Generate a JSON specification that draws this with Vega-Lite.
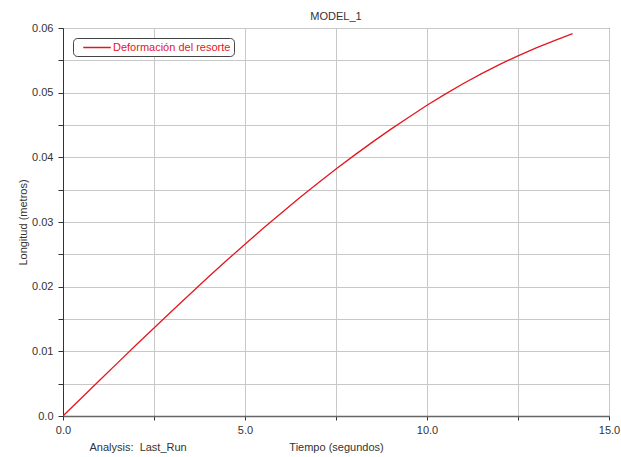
{
  "$schema": "https://vega.github.io/schema/vega-lite/v6.json",
  "autosize": {"type": "none"},
  "width": 546,
  "height": 388,
  "padding": {"left": 63, "top": 28, "right": 12, "bottom": 41},
  "background": "white",
  "title": {"text": "MODEL_1", "fontSize": 11, "fontWeight": "normal", "font": "Liberation Sans", "color": "#333", "anchor": "middle", "offset": 0},
  "data": {"values": [
    {"t": 0, "y": 0, "series": "Deformación del resorte"},
    {"t": 0.5, "y": 0.00275, "series": "Deformación del resorte"},
    {"t": 1, "y": 0.00549, "series": "Deformación del resorte"},
    {"t": 1.5, "y": 0.00822, "series": "Deformación del resorte"},
    {"t": 2, "y": 0.01093, "series": "Deformación del resorte"},
    {"t": 2.5, "y": 0.01362, "series": "Deformación del resorte"},
    {"t": 3, "y": 0.01629, "series": "Deformación del resorte"},
    {"t": 3.5, "y": 0.01892, "series": "Deformación del resorte"},
    {"t": 4, "y": 0.02152, "series": "Deformación del resorte"},
    {"t": 4.5, "y": 0.02407, "series": "Deformación del resorte"},
    {"t": 5, "y": 0.02657, "series": "Deformación del resorte"},
    {"t": 5.5, "y": 0.02902, "series": "Deformación del resorte"},
    {"t": 6, "y": 0.03141, "series": "Deformación del resorte"},
    {"t": 6.5, "y": 0.03374, "series": "Deformación del resorte"},
    {"t": 7, "y": 0.036, "series": "Deformación del resorte"},
    {"t": 7.5, "y": 0.03818, "series": "Deformación del resorte"},
    {"t": 8, "y": 0.0403, "series": "Deformación del resorte"},
    {"t": 8.5, "y": 0.04235, "series": "Deformación del resorte"},
    {"t": 9, "y": 0.04432, "series": "Deformación del resorte"},
    {"t": 9.5, "y": 0.04621, "series": "Deformación del resorte"},
    {"t": 10, "y": 0.04805, "series": "Deformación del resorte"},
    {"t": 10.5, "y": 0.04978, "series": "Deformación del resorte"},
    {"t": 11, "y": 0.05141, "series": "Deformación del resorte"},
    {"t": 11.5, "y": 0.05294, "series": "Deformación del resorte"},
    {"t": 12, "y": 0.05437, "series": "Deformación del resorte"},
    {"t": 12.5, "y": 0.0557, "series": "Deformación del resorte"},
    {"t": 13, "y": 0.05692, "series": "Deformación del resorte"},
    {"t": 13.5, "y": 0.05805, "series": "Deformación del resorte"},
    {"t": 14, "y": 0.05912, "series": "Deformación del resorte"}
  ]},
  "layer": [
    {
      "mark": {"type": "line", "strokeWidth": 1.3, "clip": true},
      "encoding": {
        "x": {"field": "t", "type": "quantitative",
          "scale": {"domain": [0, 15], "nice": false, "zero": false},
          "axis": {"title": "Tiempo (segundos)", "orient": "bottom", "values": [0, 2.5, 5, 7.5, 10, 12.5, 15],
            "labelExpr": "round(datum.value*10) % 50 == 0 ? format(datum.value, '.1f') : ''",
            "tickSize": 4, "labelPadding": 4, "titleY": 25, "titleBaseline": "top",
            "domainColor": "#666", "domainWidth": 1.5}},
        "y": {"field": "y", "type": "quantitative",
          "scale": {"domain": [0, 0.06], "nice": false},
          "axis": {"title": "Longitud (metros)",
            "values": [0, 0.005, 0.01, 0.015, 0.02, 0.025, 0.03, 0.035, 0.04, 0.045, 0.05, 0.055, 0.06],
            "labelExpr": "round(datum.value*1000) % 10 == 5 ? '' : (datum.value == 0 ? '0.0' : format(datum.value, '.2f'))",
            "tickSize": 5, "labelPadding": 5, "titlePadding": 3}},
        "color": {"field": "series", "type": "nominal",
          "scale": {"domain": ["Deformación del resorte"], "range": ["#e3171f"]},
          "legend": {"title": null, "orient": "top-left", "offset": 10, "padding": 3,
            "symbolType": "M-2.5,0H2.5", "symbolSize": 121, "symbolStrokeWidth": 1.5, "symbolOffset": 14.5,
            "labelOffset": 9.5, "labelColor": "#e3171f", "labelFontSize": 11, "labelFont": "Liberation Sans",
            "strokeColor": "#444", "fillColor": "white", "cornerRadius": 4}}
      }
    },
    {
      "mark": {"type": "line", "strokeOpacity": 0},
      "encoding": {
        "x": {"field": "t", "type": "quantitative",
          "axis": {"title": "Analysis:\u00a0 Last_Run", "orient": "bottom", "labels": false, "ticks": false, "domain": false, "grid": false,
            "titleAnchor": "start", "titleAlign": "left", "titleX": 26, "titleY": 25, "titleBaseline": "top"}},
        "y": {"field": "y", "type": "quantitative", "axis": null}
      }
    }
  ],
  "resolve": {"axis": {"x": "independent", "y": "independent"}},
  "config": {
    "view": {"stroke": "#333", "strokeWidth": 1},
    "axis": {"labelFont": "Liberation Sans", "titleFont": "Liberation Sans", "labelFontSize": 11, "titleFontSize": 11,
      "titleFontWeight": "normal", "labelColor": "#333", "titleColor": "#333", "gridColor": "#c8c8c8", "gridWidth": 1,
      "domainColor": "#333", "tickColor": "#333", "labelFlush": false, "labelOverlap": false}
  }
}
